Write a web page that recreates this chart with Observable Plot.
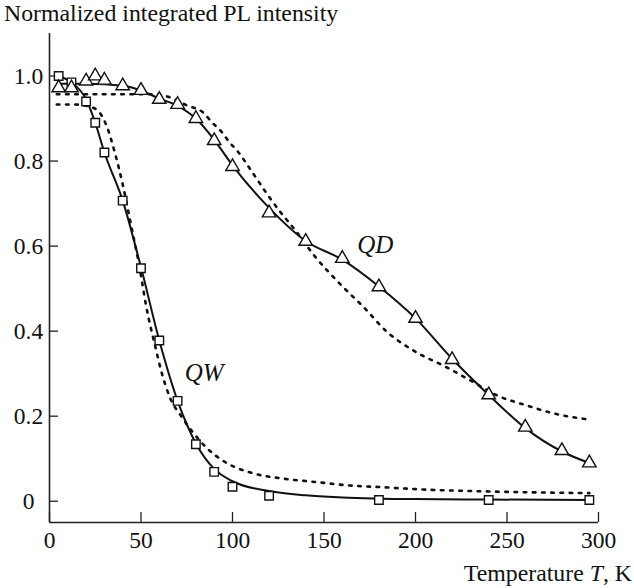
<!DOCTYPE html>
<html>
<head>
<meta charset="utf-8">
<script src="https://cdn.jsdelivr.net/npm/d3@7"></script>
<script src="https://cdn.jsdelivr.net/npm/@observablehq/plot@0.6"></script>
<style>
  html, body { margin: 0; padding: 0; background: white; }
  #wrap { position: relative; width: 634px; height: 588px; font-family: "Liberation Serif", "DejaVu Serif", serif; color: #111; }
  #title { position: absolute; left: 4px; top: 0px; font-size: 23.8px; line-height: 27px; white-space: nowrap; }
  #xlabel { position: absolute; right: 2px; top: 560px; font-size: 23.8px; line-height: 27px; white-space: nowrap; }
  #chart { position: absolute; left: 0; top: 0; }
</style>
</head>
<body>
<div id="wrap">
  <div id="chart"></div>
  <div id="title">Normalized integrated PL intensity</div>
  <div id="xlabel">Temperature <i>T</i>, K</div>
</div>
<script>
// Measured QW points (squares)
const qwT = [5, 12, 20, 25, 30, 40, 50, 60, 70, 80, 90, 100, 120, 180, 240, 295];
const qwI = [1.0, 0.985, 0.94, 0.89, 0.82, 0.707, 0.548, 0.378, 0.236, 0.134, 0.069, 0.034, 0.013, 0.003, 0.003, 0.003];
// Measured QD points (triangles)
const qdT = [5, 12, 20, 25, 30, 40, 50, 60, 70, 80, 90, 100, 120, 140, 160, 180, 200, 220, 240, 260, 280, 295];
const qdI = [0.972, 0.972, 0.988, 1.0, 0.99, 0.977, 0.966, 0.945, 0.933, 0.9, 0.848, 0.787, 0.678, 0.611, 0.571, 0.504, 0.43, 0.333, 0.25, 0.174, 0.119, 0.09];
// Solid fit curves
const qwFitT = [5, 12, 20, 25, 30, 40, 50, 60, 70, 80, 90, 100, 120, 140, 160, 200, 240, 295];
const qwFitI = [1.0, 0.985, 0.945, 0.89, 0.82, 0.707, 0.55, 0.378, 0.236, 0.136, 0.076, 0.047, 0.024, 0.014, 0.009, 0.005, 0.004, 0.003];
const qdFitT = [5, 20, 40, 50, 60, 70, 80, 90, 100, 120, 140, 160, 180, 200, 220, 240, 260, 280, 295];
const qdFitI = [0.982, 0.982, 0.977, 0.966, 0.947, 0.93, 0.9, 0.85, 0.79, 0.69, 0.612, 0.568, 0.505, 0.43, 0.335, 0.25, 0.172, 0.117, 0.09];
// Dotted model curves
const qwModT = [4, 14, 20, 26, 31, 36, 40, 45, 49, 53, 58, 61, 66, 72, 78, 86, 96, 111, 128, 146, 164, 182, 202, 240, 295];
const qwModI = [0.933, 0.933, 0.93, 0.92, 0.885, 0.815, 0.745, 0.64, 0.555, 0.455, 0.36, 0.307, 0.242, 0.2, 0.164, 0.125, 0.092, 0.066, 0.053, 0.045, 0.037, 0.033, 0.028, 0.023, 0.019];
const qdModT = [4, 56, 65, 75, 84, 89, 94, 98, 103, 110, 118, 126, 134, 145, 159, 172, 184, 199, 217, 232, 245, 261, 277, 295];
const qdModI = [0.957, 0.957, 0.951, 0.931, 0.914, 0.89, 0.869, 0.846, 0.822, 0.779, 0.728, 0.681, 0.639, 0.576, 0.51, 0.455, 0.4, 0.354, 0.315, 0.279, 0.248, 0.225, 0.205, 0.192];
// Axis ticks
const xTicks = [0, 50, 100, 150, 200, 250, 300];
const yTicks = [0, 0.2, 0.4, 0.6, 0.8, 1.0];
// Curve labels
const labelText = ["QW", "QD"];
const labelT = [84.5, 178];
const labelI = [0.302, 0.603];

const zip = (T, I) => T.map((t, i) => ({T: t, I: I[i]}));
const qw = zip(qwT, qwI), qd = zip(qdT, qdI);
const qwFit = zip(qwFitT, qwFitI), qdFit = zip(qdFitT, qdFitI);
const qwMod = zip(qwModT, qwModI), qdMod = zip(qdModT, qdModI);
const labels = labelText.map((s, i) => ({s, T: labelT[i], I: labelI[i]}));

const W = 634, H = 588, mL = 49, mR = 36, mT = 33, mB = 66;
const frameW = W - mL - mR, frameH = H - mT - mB;

const plot = Plot.plot({
  width: W, height: H,
  marginLeft: mL, marginRight: mR, marginTop: mT, marginBottom: mB,
  x: {domain: [0, 300]},
  y: {domain: [-0.05, 1.1]},
  style: {fontFamily: "'Liberation Serif', 'DejaVu Serif', serif", fontSize: "23.5px", background: "white", color: "#111"},
  marks: [
    Plot.ruleX([0], {stroke: "#222", strokeWidth: 1.6}),
    Plot.ruleY([-0.05], {stroke: "#222", strokeWidth: 1.6}),
    Plot.tickX(xTicks, {x: d => d, stroke: "#222", strokeWidth: 1.3, insetTop: frameH - 10}),
    Plot.tickY(yTicks, {y: d => d, stroke: "#222", strokeWidth: 1.3, insetRight: frameW - 9}),
    Plot.axisX({ticks: xTicks, tickSize: 0, tickPadding: 9, label: null, tickFormat: d => String(d)}),
    Plot.axisY({ticks: yTicks, tickSize: 0, tickPadding: 21, textAnchor: "middle", label: null, tickFormat: d => d === 0 ? "0" : d.toFixed(1)}),
    Plot.line(qwMod, {x: "T", y: "I", curve: "monotone-x", stroke: "#111", strokeWidth: 2.6, strokeDasharray: "2.6,6.6"}),
    Plot.line(qdMod, {x: "T", y: "I", curve: "monotone-x", stroke: "#111", strokeWidth: 2.6, strokeDasharray: "2.6,6.6"}),
    Plot.line(qwFit, {x: "T", y: "I", curve: "monotone-x", stroke: "#111", strokeWidth: 2}),
    Plot.line(qdFit, {x: "T", y: "I", curve: "monotone-x", stroke: "#111", strokeWidth: 2}),
    Plot.dot(qw, {x: "T", y: "I", symbol: "square", r: 4.8, fill: "white", stroke: "#111", strokeWidth: 1.4}),
    Plot.dot(qd, {x: "T", y: "I", symbol: "triangle", r: 5, fill: "white", stroke: "#111", strokeWidth: 1.4}),
    Plot.text(labels, {x: "T", y: "I", text: "s", fontStyle: "italic", fontSize: 25, fill: "#111"})
  ]
});
document.getElementById("chart").appendChild(plot);
</script>
</body>
</html>
